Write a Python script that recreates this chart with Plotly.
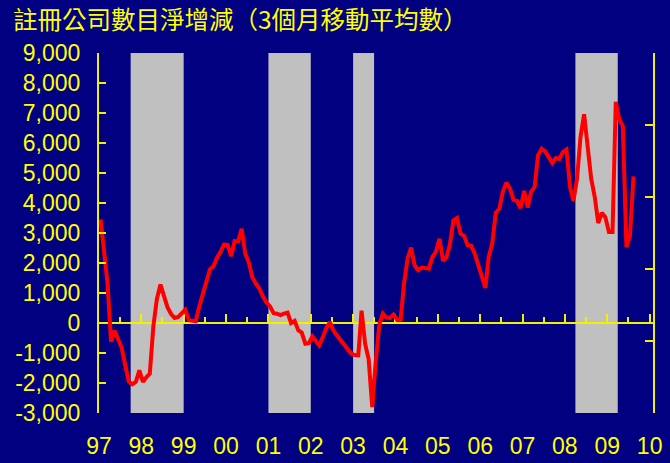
import plotly.graph_objects as go

# ---- data -------------------------------------------------------------
months = [f"{y}-{m:02d}-15" for y in range(1997, 2010) for m in range(1, 13)][:152]

net_change = [
    3450, 2400, 1350, -620, -250, -540, -820, -1400, -1950, -2040, -1960, -1580,   # 1997
    -1960, -1800, -1690, -100, 800, 1280, 850, 520, 300, 170, 200, 310,            # 1998
    440, 90, 70, 60, 540, 950, 1310, 1780, 1890, 2170, 2370, 2610,                 # 1999
    2600, 2230, 2730, 2720, 3140, 2310, 2030, 1530, 1310, 1150, 880, 680,          # 2000
    550, 330, 310, 260, 310, 345, 0, 70, -240, -320, -690, -670,                   # 2001
    -450, -600, -745, -470, -170, 30, -244, -420, -580, -720, -860, -1020,         # 2002
    -1070, -1080, 410, -700, -1200, -2800, -1300, -50, 310, 180, 170, 280,         # 2003
    110, 110, 1310, 2150, 2510, 1920, 1760, 1850, 1830, 1810, 2200, 2370,          # 2004
    2810, 2070, 2180, 2620, 3420, 3500, 2980, 2900, 2590, 2570, 2310, 1920,        # 2005
    1620, 1170, 2200, 2650, 3670, 3810, 4370, 4680, 4480, 4110, 4070, 3830,        # 2006
    4400, 3850, 4370, 4530, 5590, 5810, 5720, 5530, 5330, 5500, 5470, 5700,        # 2007
    5780, 4530, 4070, 4810, 6200, 6960, 5980, 4810, 4200, 3330, 3670, 3530,        # 2008
    3030, 3030, 7370, 6790, 6560, 2530, 2890, 4890,                                # 2009
]

band_starts = ["1997-10-01", "2001-01-01", "2003-01-01", "2008-04-01"]
band_ends = ["1999-01-01", "2002-01-01", "2003-07-01", "2009-04-01"]

y_tick_vals = [-3000, -2000, -1000, 0, 1000, 2000, 3000, 4000, 5000, 6000, 7000, 8000, 9000]
y_tick_text = ["-3,000", "-2,000", "-1,000", "0", "1,000", "2,000", "3,000",
               "4,000", "5,000", "6,000", "7,000", "8,000", "9,000"]
x_range = ["1997-01-01", "2010-01-30"]
title_text = "註冊公司數目淨增減（3個月移動平均數）"

# ---- style -------------------------------------------------------------
BG = "#000080"
YEL = "#FFFF00"
AX = "#F0F000"
LAT = "Liberation Sans, Arial, sans-serif"

fig = go.Figure()
fig.add_trace(go.Scatter(x=months, y=net_change, mode="lines",
                         line=dict(color="#FF0000", width=4),
                         showlegend=False, hoverinfo="skip"))
# empty traces so the auxiliary axes are drawn
fig.add_trace(go.Scatter(x=[], y=[], xaxis="x2", yaxis="y", showlegend=False))
fig.add_trace(go.Scatter(x=[], y=[], xaxis="x", yaxis="y2", showlegend=False))

for s, e in zip(band_starts, band_ends):
    fig.add_vrect(x0=s, x1=e, fillcolor="#C0C0C0", opacity=1, line_width=0, layer="below")

fig.update_layout(
    width=670, height=463,
    margin=dict(l=99, r=17, t=53, b=50, autoexpand=False),
    paper_bgcolor=BG, plot_bgcolor=BG,
    title=dict(text=title_text, x=13 / 670, xanchor="left", y=1 - 20.5 / 463, yanchor="middle",
               font=dict(family="Noto Sans CJK TC", size=24.5, color=YEL)),
    xaxis=dict(type="date", range=x_range, showgrid=False, zeroline=False, showline=False,
               automargin=False,
               ticks="outside", ticklen=12, tickcolor="rgba(0,0,0,0)",
               dtick="M12", tick0="1997-01-01", tickformat="%y",
               tickfont=dict(family=LAT, size=23, color=YEL)),
    xaxis2=dict(type="date", overlaying="x", anchor="free", position=0.25, side="bottom",
                range=x_range, showline=True, linecolor=AX, linewidth=2, automargin=False,
                ticks="inside", ticklen=8, tickwidth=2, tickcolor=AX,
                dtick="M12", tick0="1997-01-01", showticklabels=False,
                showgrid=False, zeroline=False, layer="below traces",
                minor=dict(dtick="M6", tick0="1997-01-01", ticks="inside", ticklen=5,
                           tickwidth=2, tickcolor=AX, showgrid=False)),
    yaxis=dict(range=[-3000, 9000], tickvals=y_tick_vals, ticktext=y_tick_text,
               ticks="inside", ticklen=7, tickwidth=2, tickcolor=AX,
               showline=True, linecolor=AX, linewidth=2, automargin=False,
               showgrid=False, zeroline=False, ticklabelstandoff=12,
               tickfont=dict(family=LAT, size=23, color=YEL)),
    yaxis2=dict(overlaying="y", side="right", anchor="x", range=[0, 5], dtick=1, tick0=0,
                ticks="inside", ticklen=8, tickwidth=2, tickcolor=AX, automargin=False,
                showline=True, linecolor=AX, linewidth=2,
                showticklabels=False, showgrid=False, zeroline=False),
)

fig.write_html("out.html", config={"displayModeBar": False},
               post_script="document.body.style.margin='0';document.body.style.background='#000080';")
